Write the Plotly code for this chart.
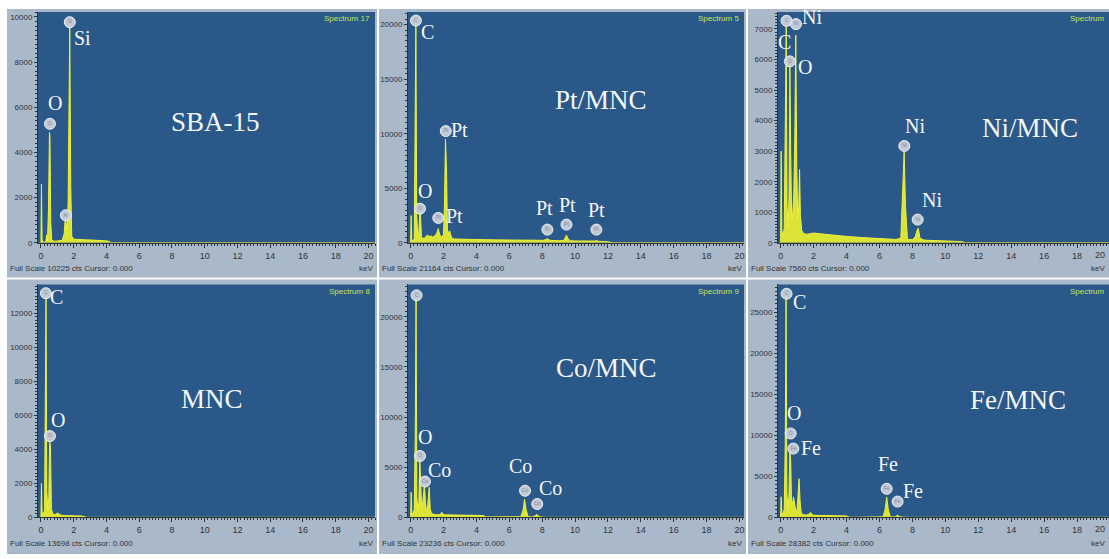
import plotly.graph_objects as go

W, H = 1109, 559

# ---------------------------------------------------------------- spectra
# energy (keV) and counts for each EDS spectrum
sba_kev = [0.00, 0.03, 0.07, 0.12, 0.22, 0.30, 0.35, 0.40, 0.46, 0.52, 0.55, 0.60, 0.66, 0.75,
           0.90, 1.10, 1.30, 1.42, 1.48, 1.54, 1.60, 1.66, 1.72, 1.76, 1.82, 1.88, 2.00, 2.30,
           2.70, 3.20, 3.70, 4.10, 4.30, 20.4]
sba_cts = [0, 2600, 150, 40, 30, 80, 350, 80, 1500, 4900, 4700, 900, 120, 80,
           70, 90, 110, 400, 1050, 900, 300, 1800, 8000, 9600, 2500, 300, 160, 140,
           130, 120, 100, 80, 0, 0]

pt_kev = [0.00, 0.03, 0.07, 0.14, 0.22, 0.28, 0.32, 0.37, 0.44, 0.50, 0.56, 0.60, 0.66, 0.75,
          0.85, 0.95, 1.05, 1.15, 1.25, 1.35, 1.45, 1.55, 1.62, 1.68, 1.74, 1.82, 1.92, 2.00,
          2.06, 2.12, 2.18, 2.24, 2.32, 2.38, 2.44, 2.52, 2.65, 3.00, 4.00, 5.00, 6.00, 7.00,
          7.80, 8.10, 8.22, 8.32, 8.42, 8.60, 9.00, 9.30, 9.40, 9.48, 9.56, 9.70, 10.00, 10.60,
          11.05, 11.20, 11.30, 11.40, 11.60, 12.00, 12.30, 20.4]
pt_cts = [0, 2500, 300, 150, 400, 12000, 20300, 2500, 500, 900, 2800, 2600, 500, 400,
          450, 600, 700, 550, 650, 500, 600, 750, 1000, 1300, 900, 600, 500, 800,
          3500, 9500, 7000, 1200, 800, 1100, 700, 400, 350, 320, 300, 270, 250, 230,
          220, 230, 300, 380, 260, 210, 190, 200, 450, 700, 420, 190, 170, 150,
          140, 160, 220, 150, 120, 100, 0, 0]

ni_kev = [0.00, 0.03, 0.07, 0.14, 0.22, 0.28, 0.34, 0.39, 0.45, 0.51, 0.56, 0.61, 0.67, 0.74,
          0.80, 0.86, 0.92, 0.98, 1.04, 1.10, 1.15, 1.20, 1.28, 1.40, 1.60, 1.80, 2.00, 2.50,
          3.00, 4.00, 5.00, 6.00, 7.00, 7.30, 7.42, 7.50, 7.58, 7.70, 8.00, 8.18, 8.28, 8.36,
          8.46, 8.70, 9.00, 10.00, 11.00, 11.20, 20.4]
ni_cts = [0, 3000, 400, 200, 500, 3000, 7100, 1200, 500, 1500, 5800, 3000, 800, 1000,
          1600, 3500, 6800, 2500, 800, 1200, 2400, 900, 400, 300, 280, 300, 320, 290,
          260, 210, 170, 140, 110, 150, 1600, 2990, 1200, 120, 100, 200, 400, 480,
          150, 90, 80, 60, 40, 0, 0]

mnc_kev = [0.00, 0.03, 0.07, 0.14, 0.22, 0.27, 0.31, 0.36, 0.42, 0.48, 0.53, 0.58, 0.64, 0.72,
           0.85, 1.00, 1.10, 1.25, 1.50, 2.00, 2.50, 2.80, 20.4]
mnc_cts = [0, 2000, 300, 200, 400, 6000, 13000, 1500, 400, 1200, 4500, 4200, 500, 200,
           150, 250, 200, 120, 100, 90, 80, 0, 0]

co_kev = [0.00, 0.03, 0.07, 0.14, 0.22, 0.28, 0.33, 0.38, 0.44, 0.50, 0.56, 0.61, 0.67, 0.72,
          0.78, 0.84, 0.90, 0.96, 1.02, 1.08, 1.13, 1.19, 1.26, 1.40, 1.60, 1.80, 1.90, 2.00,
          2.50, 3.00, 3.50, 4.00, 4.40, 4.60, 5.00, 6.00, 6.70, 6.84, 6.93, 7.02, 7.14, 7.40,
          7.58, 7.68, 7.78, 7.90, 8.20, 20.4]
co_cts = [0, 2500, 500, 300, 800, 8000, 21800, 2000, 700, 1500, 5800, 3500, 1000, 1200,
          2500, 3300, 1500, 700, 800, 1800, 3000, 900, 400, 300, 250, 280, 500, 250,
          230, 210, 200, 190, 180, 40, 30, 30, 60, 700, 1800, 800, 60, 40,
          150, 300, 120, 30, 0, 0]

fe_kev = [0.00, 0.03, 0.07, 0.14, 0.22, 0.28, 0.33, 0.38, 0.44, 0.50, 0.56, 0.61, 0.66, 0.72,
          0.78, 0.84, 0.92, 1.00, 1.06, 1.12, 1.18, 1.25, 1.40, 1.60, 1.74, 1.82, 1.90, 2.00,
          2.50, 3.00, 3.50, 4.00, 4.20, 5.00, 6.00, 6.22, 6.34, 6.44, 6.54, 6.66, 6.90, 7.02,
          7.10, 7.18, 7.40, 7.80, 20.4]
fe_cts = [0, 2500, 600, 400, 1000, 9000, 27000, 3000, 1000, 2500, 8000, 7000, 2000, 1500,
          2500, 1500, 800, 900, 2500, 4700, 2000, 500, 300, 280, 400, 600, 350, 250,
          220, 200, 180, 170, 0, 0, 30, 60, 900, 2450, 900, 60, 40, 100,
          300, 90, 30, 0, 0]

spectra = [(sba_kev, sba_cts), (pt_kev, pt_cts), (ni_kev, ni_cts),
           (mnc_kev, mnc_cts), (co_kev, co_cts), (fe_kev, fe_cts)]

panel_titles = ["SBA-15", "Pt/MNC", "Ni/MNC", "MNC", "Co/MNC", "Fe/MNC"]
spectrum_names = ["Spectrum 17", "Spectrum 5", "Spectrum", "Spectrum 8", "Spectrum 9", "Spectrum"]
full_scale = [10225, 21164, 7560, 13698, 23236, 28382]
y_steps = [2000, 5000, 1000, 2000, 5000, 5000]

# identified peaks: (energy keV, counts, element)
sba_marks = [(0.55, 5270, "O"), (1.52, 1220, "Al"), (1.76, 9770, "Si")]
pt_marks = [(0.32, 20370, "C"), (0.57, 3130, "O"), (1.68, 2280, "Pt"), (2.14, 10240, "Pt"),
            (8.32, 1210, "Pt"), (9.48, 1670, "Pt"), (11.30, 1210, "Pt")]
ni_marks = [(0.36, 7270, "C"), (0.56, 5940, "O"), (0.93, 7160, "Ni"),
            (7.51, 3170, "Ni"), (8.32, 760, "Ni")]
mnc_marks = [(0.30, 13180, "C"), (0.55, 4780, "O")]
co_marks = [(0.36, 22150, "C"), (0.57, 6120, "O"), (0.87, 3570, "Co"),
            (6.96, 2650, "Co"), (7.70, 1330, "Co")]
fe_marks = [(0.36, 27250, "C"), (0.61, 10220, "O"), (0.77, 8380, "Fe"),
            (6.44, 3480, "Fe"), (7.10, 1920, "Fe")]
marks = [sba_marks, pt_marks, ni_marks, mnc_marks, co_marks, fe_marks]

# element labels written beside the peaks: (text, keV, counts)
labels = [
    [("O", 0.85, 6190), ("Si", 2.52, 9060)],
    [("C", 1.02, 19330), ("O", 0.87, 4740), ("Pt", 3.00, 10300), ("Pt", 2.69, 2460),
     ("Pt", 8.16, 3190), ("Pt", 9.53, 3490), ("Pt", 11.30, 3040)],
    [("C", 0.26, 6570), ("O", 1.48, 5750), ("Ni", 1.93, 7390), ("Ni", 8.16, 3810), ("Ni", 9.22, 1410)],
    [("C", 0.95, 12980), ("O", 1.03, 5700)],
    [("O", 0.87, 8030), ("Co", 1.78, 4730), ("Co", 6.70, 5130), ("Co", 8.52, 2975)],
    [("C", 1.17, 26190), ("O", 0.81, 12710), ("Fe", 1.84, 8420), ("Fe", 6.54, 6540), ("Fe", 8.06, 3190)],
]
title_pos = [(10.64, 5330), (11.6, 13070), (15.15, 3745), (10.47, 6985), (11.94, 14870), (14.43, 14300)]

# ---------------------------------------------------------------- geometry (pixels)
col_plot = [(38, 375), (408, 744), (778, 1109)]
col_frame = [(7, 377), (379, 746), (748, 1109)]
row_plot = [(12, 245), (287, 522)]
row_frame = [(9, 280), (282, 559)]
x_ranges = [(-0.18, 20.4), (-0.16, 20.28), (-0.16, 19.94)]


def fx(px):
    return px / W


def fy(py):
    return 1 - py / H


BG = "#2a5889"
FRAME = "#aab9c9"
TICK = "#2e3338"
YELLOW = "#eef23a"
FILL = "#dbe334"
SERIF = "Liberation Serif, Times New Roman, serif"
NARROW = "Liberation Sans Narrow, Arial Narrow, Liberation Sans, sans-serif"

fig = go.Figure()
shapes = []
annotations = []
layout_axes = {}

# grey instrument frames, then the dark plotting windows on top of them
for r in range(2):
    for c in range(3):
        shapes.append(dict(type="rect", xref="paper", yref="paper", layer="below",
                           x0=fx(col_frame[c][0]), x1=fx(col_frame[c][1]),
                           y0=fy(row_frame[r][1]), y1=fy(row_frame[r][0]),
                           fillcolor=FRAME, line=dict(width=0)))
for r in range(2):
    for c in range(3):
        shapes.append(dict(type="rect", xref="paper", yref="paper", layer="below",
                           x0=fx(col_plot[c][0]), x1=fx(col_plot[c][1]),
                           y0=fy(row_plot[r][1]), y1=fy(row_plot[r][0]),
                           fillcolor=BG, line=dict(width=0)))

for p in range(6):
    r, c = divmod(p, 3)
    n = p + 1
    xa = "x" if n == 1 else f"x{n}"
    ya = "y" if n == 1 else f"y{n}"
    kev, cts = spectra[p]

    fig.add_trace(go.Scatter(x=kev, y=cts, xaxis=xa, yaxis=ya, mode="lines",
                             line=dict(color=YELLOW, width=1), fill="tozeroy",
                             fillcolor=FILL, hoverinfo="skip", showlegend=False))
    mk = marks[p]
    fig.add_trace(go.Scatter(x=[m[0] for m in mk], y=[m[1] for m in mk], xaxis=xa, yaxis=ya,
                             mode="markers+text", text=[m[2] for m in mk],
                             textposition="middle center",
                             textfont=dict(size=5, color="#7d8796", family=NARROW),
                             marker=dict(size=11, color="rgba(206,211,220,0.92)",
                                         line=dict(color="#eef0f4", width=1)),
                             cliponaxis=False, hoverinfo="skip", showlegend=False))

    layout_axes["xaxis" if n == 1 else f"xaxis{n}"] = dict(
        domain=[fx(col_plot[c][0]), fx(col_plot[c][1])], anchor=ya,
        range=list(x_ranges[c]), tick0=0, dtick=2, ticks="outside", ticklen=4,
        tickcolor=TICK, tickfont=dict(size=9, color=TICK, family=NARROW),
        showline=True, linecolor=TICK, linewidth=1, showgrid=False, zeroline=False,
        minor=dict(dtick=0.2, ticks="outside", ticklen=2, tickcolor=TICK))
    layout_axes["yaxis" if n == 1 else f"yaxis{n}"] = dict(
        domain=[fy(row_plot[r][1]), fy(row_plot[r][0])], anchor=xa,
        range=[0, full_scale[p]], tick0=0, dtick=y_steps[p], ticks="outside", ticklen=3,
        tickformat="d", tickcolor=TICK, tickfont=dict(size=8, color=TICK, family=NARROW),
        showline=True, linecolor=TICK, linewidth=1, showgrid=False, zeroline=False,
        minor=dict(dtick=y_steps[p] / 10, ticks="outside", ticklen=2, tickcolor=TICK))

    # sample name
    tx, ty = title_pos[p]
    annotations.append(dict(text=panel_titles[p], x=tx, y=ty, xref=xa, yref=ya,
                            showarrow=False, font=dict(family=SERIF, size=27, color="#f4f6f8")))
    # element labels
    for text, lx, ly in labels[p]:
        annotations.append(dict(text=text, x=lx, y=ly, xref=xa, yref=ya, showarrow=False,
                                font=dict(family=SERIF, size=20, color="#f4f6f8")))
    # spectrum id in the top-right corner
    right_px = col_plot[c][1] - 3 if c < 2 else 1107
    annotations.append(dict(text=spectrum_names[p], xref="paper", yref="paper",
                            x=fx(right_px), y=fy(row_plot[r][0] + 7),
                            xanchor="right", yanchor="middle", showarrow=False,
                            font=dict(family=NARROW, size=8, color="#c6e45a")))
    # status line under the axis
    base = row_plot[r][1]
    annotations.append(dict(text=f"Full Scale {full_scale[p]} cts Cursor: 0.000",
                            xref="paper", yref="paper", x=fx(col_frame[c][0] + 1),
                            y=fy(base + 26), xanchor="left", yanchor="middle",
                            showarrow=False, font=dict(family=NARROW, size=8, color=TICK)))
    kev_right = col_plot[c][1] if c < 2 else 1107
    annotations.append(dict(text="keV", xref="paper", yref="paper", x=fx(kev_right),
                            y=fy(base + 26), xanchor="right",
                            yanchor="middle", showarrow=False,
                            font=dict(family=NARROW, size=8, color=TICK)))
    if c == 2:
        # last tick label, kept inside the page edge
        annotations.append(dict(text="20", xref="paper", yref="paper", x=fx(1107),
                                y=fy(base + 12), xanchor="right", yanchor="middle",
                                showarrow=False, font=dict(family=NARROW, size=9, color=TICK)))

fig.update_layout(width=W, height=H, autosize=False, margin=dict(l=0, r=0, t=0, b=0),
                  paper_bgcolor="white", plot_bgcolor=BG, showlegend=False,
                  shapes=shapes, annotations=annotations, **layout_axes)

fig.write_html("out.html")
